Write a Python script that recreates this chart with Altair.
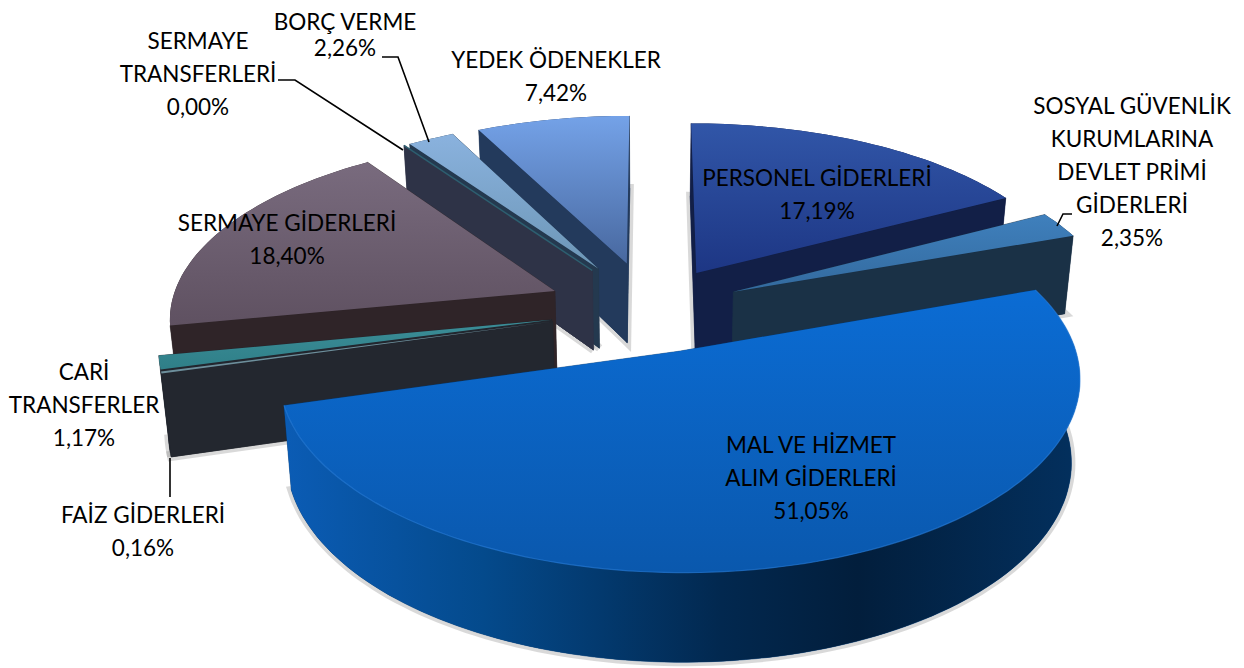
import math
import altair as alt

# ---- chart values (clockwise from 12 o'clock) ----
NAMES = ["PERSONEL GİDERLERİ", "SOSYAL GÜVENLİK KURUMLARINA DEVLET PRİMİ GİDERLERİ",
         "MAL VE HİZMET ALIM GİDERLERİ", "FAİZ GİDERLERİ", "CARİ TRANSFERLER",
         "SERMAYE GİDERLERİ", "SERMAYE TRANSFERLERİ", "BORÇ VERME", "YEDEK ÖDENEKLER"]
VALUES = [17.19, 2.35, 51.05, 0.16, 1.17, 18.40, 0.00, 2.26, 7.42]
EXPLODE = [0.24, 0.24, 0.24, 0.26, 0.26, 0.27, 0.27, 0.27, 0.27]
DRAW_ORDER = [8, 7, 6, 5, 4, 3, 0, 1, 2]

# ---- label layout: lines of each label, centre x, first-line y, line step ----
LABEL_LINES = [["PERSONEL GİDERLERİ"], ["SOSYAL GÜVENLİK", "KURUMLARINA", "DEVLET PRİMİ", "GİDERLERİ"],
               ["MAL VE HİZMET", "ALIM GİDERLERİ"], ["FAİZ GİDERLERİ"], ["CARİ", "TRANSFERLER"],
               ["SERMAYE GİDERLERİ"], ["SERMAYE", "TRANSFERLERİ"], ["BORÇ VERME"], ["YEDEK ÖDENEKLER"]]
LABEL_X = [817, 1132, 811, 143, 84, 287, 198, 345, 556]
LABEL_Y = [179, 107, 446, 516, 373, 224, 42, 23, 61]
LINE_STEP = [33, 33, 33, 33, 33, 33, 33, 26, 33]

LEADERS = [[(382, 57), (398, 57), (429, 142)],
           [(278, 80), (295, 80), (403, 150)],
           [(1057, 226), (1063, 214), (1072, 214)],
           [(170, 458), (170, 497)]]

# ---- styles per slice: top gradient (far, near), wall ----
TOP = [("#3156a8", "#1d3684"), ("#3f80bd", "#336a9e"), ("#0b6cd4", "#0a58ad"),
       ("#6d8f9c", "#6d8f9c"), ("#3c8e98", "#2f7f88"), ("#796b7e", "#5f5161"),
       ("#2d5f70", "#2d5f70"), ("#8ab2de", "#6c96b6"), ("#74a2e8", "#48689f")]
WALL = ["#121f47", "#1a3146", "#033d78", "#23272f", "#23272f", "#2f2428", "#2e3347", "#24394f", "#233a5c"]

# ---- perspective model of the pie plane, in picture pixels ----
CX, CY, AX, BY, KX, KY = 650.0, 309.0, 385.0, 179.0, 0.13, 0.135


def P(u, v, low=False):
    x = CX + AX * u / (1 + KX * v)
    y = CY - BY * v / (1 + KY * v)
    if low:
        x = CX + (x - CX) * 0.98
        y = y + 81 - 7 * v
    return [round(x, 1), round(y, 1)]


def poly(pts):
    return {"type": "Feature", "properties": {},
            "geometry": {"type": "Polygon", "coordinates": [pts + [pts[0]]]}}


def path(pts):
    return {"type": "Feature", "properties": {},
            "geometry": {"type": "LineString", "coordinates": [list(p) for p in pts]}}


PROJ = dict(type="identity", scale=1, translate=[-8, -8])


def shape(feature, **mark):
    return alt.Chart(alt.Data(values=[feature])).mark_geoshape(**mark).project(**PROJ)


def vgrad(c0, c1):
    return alt.Gradient(gradient="linear", x1=0, y1=0, x2=0, y2=1,
                        stops=[alt.GradientStop(color=c0, offset=0), alt.GradientStop(color=c1, offset=1)])


def hgrad(stops):
    return alt.Gradient(gradient="linear", x1=0, y1=0, x2=1, y2=0,
                        stops=[alt.GradientStop(color=c, offset=o) for o, c in stops])


MAL_STRIP = hgrad([(0, "#0b5cb5"), (0.25, "#044a8c"), (0.55, "#02284f"), (0.72, "#021e3c"), (1, "#03305e")])

starts, acc = [], 0.0
for v in VALUES:
    starts.append(acc)
    acc += v * 3.6

layers = []
for i in DRAW_ORDER:
    a0, a1 = starts[i], starts[i] + VALUES[i] * 3.6
    mid = math.radians((a0 + a1) / 2)
    ub, vb = EXPLODE[i] * math.sin(mid), EXPLODE[i] * math.cos(mid)
    n = max(2, int((a1 - a0) / 1.5) + 2)
    arc = []
    for k in range(n):
        a = math.radians(a0 + (a1 - a0) * k / (n - 1))
        arc.append((ub + math.sin(a), vb + math.cos(a)))
    top = [P(ub, vb)] + [P(*q) for q in arc]
    low = [P(ub, vb, True)] + [P(*q, True) for q in arc]
    # soft shadow under the slice
    layers.append(shape(poly(low), fill="#777777", fillOpacity=0.3, stroke="#777777", strokeOpacity=0.28, strokeWidth=8))
    layers.append(shape(poly(low), fill=WALL[i], stroke=WALL[i], strokeWidth=0.5))
    strip = shape(poly([P(*q) for q in arc] + [P(*q, True) for q in reversed(arc)]),
                  fill=MAL_STRIP if i == 2 else WALL[i], stroke=None)
    near_side = math.cos(mid) < 0
    if not near_side:
        layers.append(strip)
    faces = [arc[0], arc[-1]]
    faces.sort(key=lambda q: -q[1])
    for q in faces:
        layers.append(shape(poly([P(ub, vb), P(*q), P(*q, True), P(ub, vb, True)]),
                            fill=WALL[i], stroke=WALL[i], strokeWidth=0.5))
    if near_side:
        layers.append(strip)
    if a1 > a0:
        layers.append(shape(poly(top), fill=vgrad(*TOP[i]), stroke=None))
    else:
        layers.append(shape(path(top), filled=False, stroke=TOP[i][0], strokeWidth=1.5))
    if i == 2:
        layers.append(shape(path(top[1:]), filled=False, stroke="#2a7fdc", strokeOpacity=0.6, strokeWidth=1.2))

for line in LEADERS:
    layers.append(shape(path(line), filled=False, stroke="black", strokeWidth=1.6))

rows = []
for i, lines in enumerate(LABEL_LINES):
    pct = f"{VALUES[i]:.2f}".replace(".", ",") + "%"
    for j, t in enumerate(lines + [pct]):
        rows.append({"t": t, "lon": LABEL_X[i], "lat": LABEL_Y[i] + j * LINE_STEP[i]})

text = alt.Chart(alt.Data(values=rows)).mark_text(
    font="Lato", fontSize=22.5, color="black", align="center", baseline="middle"
).encode(longitude="lon:Q", latitude="lat:Q", text="t:N").project(**PROJ)
layers.append(text)

chart = alt.layer(*layers).properties(
    width=1228, height=660, padding=0, autosize=alt.AutoSizeParams(type="none"),
    background="white"
).configure_view(stroke=None)

chart.save("out.html", embed_options={"renderer": "svg", "actions": False})
